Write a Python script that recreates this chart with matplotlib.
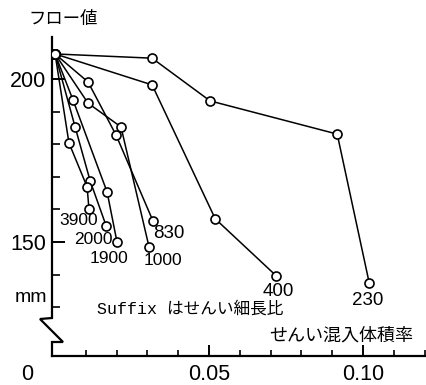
import matplotlib.pyplot as plt
from matplotlib.ticker import FixedLocator

# fibre volume fraction vs. flow value, one series per fibre aspect ratio
labels = ["230", "400", "830", "1000", "1900", "2000", "3900"]
start_vf = 0.0
start_flow = 207.7

vf_230 = [0.0315, 0.0503, 0.0916, 0.102]
flow_230 = [206.4, 193.3, 183.1, 137.4]
vf_400 = [0.0315, 0.052, 0.0718]
flow_400 = [198.2, 157.1, 139.6]
vf_830 = [0.0107, 0.0198, 0.0318]
flow_830 = [199.1, 182.8, 156.4]
vf_1000 = [0.0107, 0.0214, 0.0305]
flow_1000 = [192.6, 185.3, 148.5]
vf_1900 = [0.0058, 0.0169, 0.0201]
flow_1900 = [193.6, 165.3, 150.0]
vf_2000 = [0.0065, 0.0114, 0.0166]
flow_2000 = [185.3, 168.7, 154.9]
vf_3900 = [0.0045, 0.0104, 0.011]
flow_3900 = [180.4, 166.9, 160.1]

series = {
    "230": (vf_230, flow_230),
    "400": (vf_400, flow_400),
    "830": (vf_830, flow_830),
    "1000": (vf_1000, flow_1000),
    "1900": (vf_1900, flow_1900),
    "2000": (vf_2000, flow_2000),
    "3900": (vf_3900, flow_3900),
}

# where each end label sits relative to the last point (pixels)
label_offsets = {
    "230": (-2, -17), "400": (2, -16), "830": (16, -12), "1000": (14, -14),
    "1900": (-8, -17), "2000": (-13, -14), "3900": (-10, -11),
}

num_font = "Liberation Sans"
jp_font = ["Noto Sans CJK JP", "DejaVu Sans"]

W, H = 426, 385
L, R, B, T = 52, 425, 356, 37
fig = plt.figure(figsize=(W / 100, H / 100), dpi=100)
ax = fig.add_axes([L / W, 1 - B / H, (R - L) / W, (B - T) / H])

for name in labels:
    xs, ys = series[name]
    ax.plot([start_vf] + xs, [start_flow] + ys, color="black", lw=1.1,
            marker="o", ms=6.5, mfc="white", mec="black", mew=1.2, zorder=3)
    dx, dy = label_offsets[name]
    size = 13.5 if len(name) == 3 else 12.5
    ax.annotate(name, (xs[-1], ys[-1]), xytext=(dx, dy), textcoords="offset pixels",
                ha="center", va="center", fontsize=size, family=num_font)

ax.set_xlim(-0.001, 0.1201)
ax.set_ylim(115.0, 212.9)

for s in ["top", "right", "left"]:
    ax.spines[s].set_visible(False)
ax.spines["bottom"].set_linewidth(1.6)

# left axis drawn by hand so it carries the break mark
def px(x, y):
    return (x - L) / (R - L), (B - y) / (B - T)

path = [px(52, 37), px(52, 318), px(40, 319), px(63, 342), px(52, 342), px(52, 356)]
ax.plot([p[0] for p in path], [p[1] for p in path], color="black", lw=1.6,
        transform=ax.transAxes, clip_on=False, solid_joinstyle="miter")

ax.set_xticks([0.05, 0.10])
ax.set_xticklabels(["0.05", "0.10"], family=num_font, fontsize=15.5)
ax.xaxis.set_minor_locator(FixedLocator([0.01, 0.02, 0.03, 0.04, 0.06, 0.07,
                                         0.08, 0.09, 0.11, 0.12]))
ax.tick_params(axis="x", which="major", direction="in", length=8, width=1.4, pad=6)
ax.tick_params(axis="x", which="minor", direction="in", length=4, width=1.2)

ax.set_yticks([150, 200])
ax.set_yticklabels(["150", "200"], family=num_font, fontsize=15.5)
ax.yaxis.set_minor_locator(FixedLocator([130, 140, 160, 170, 180, 190]))
ax.tick_params(axis="y", which="major", direction="in", length=9, width=1.4, pad=4)
ax.tick_params(axis="y", which="minor", direction="in", length=6, width=1.2)

ax.text(*px(27, 374), "0", transform=ax.transAxes, ha="center", va="center",
        fontsize=15.5, family=num_font, clip_on=False)
ax.text(*px(47, 298), "mm", transform=ax.transAxes, ha="right", va="center",
        fontsize=14, family=num_font, clip_on=False)
ax.text(*px(63, 19), "フロー値", transform=ax.transAxes, ha="center", va="center",
        fontsize=12.5, family=jp_font, clip_on=False)
ax.text(*px(97, 309), "Suffix はせんい細長比", transform=ax.transAxes, ha="left",
        va="center", fontsize=12, family=["Liberation Mono", "Noto Sans CJK JP"])
ax.text(*px(413, 336), "せんい混入体積率", transform=ax.transAxes, ha="right",
        va="center", fontsize=13, family=jp_font)

fig.savefig("out.png", dpi=100)
